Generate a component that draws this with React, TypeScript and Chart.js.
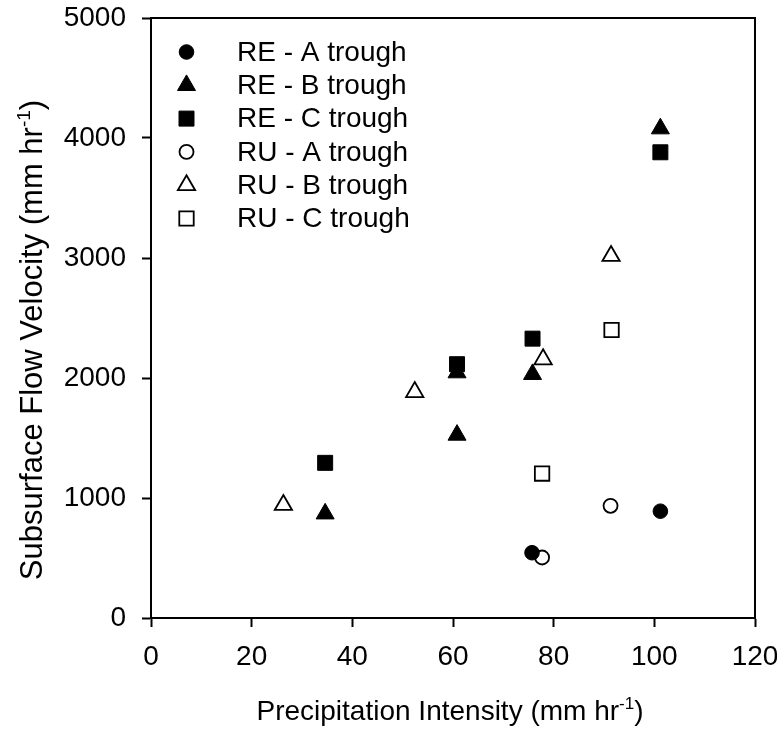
import React, { useEffect, useRef } from "react";
import { Chart, registerables } from "chart.js";

Chart.register(...registerables);

// ---- data ----
const reAX = [75.7, 101.2];
const reAY = [544, 890];
const reBX = [34.6, 60.8, 60.8, 75.8, 101.2];
const reBY = [869, 1525, 2045, 2031, 4078];
const reCX = [34.6, 60.8, 75.8, 101.2];
const reCY = [1293, 2115, 2328, 3881];
const ruAX = [77.7, 91.3];
const ruAY = [504, 935];
const ruBX = [26.3, 52.4, 77.9, 91.4];
const ruBY = [942, 1883, 2156, 3017];
const ruCX = [77.7, 91.5];
const ruCY = [1204, 2400];

const seriesLabels = ["RE - A trough", "RE - B trough", "RE - C trough", "RU - A trough", "RU - B trough", "RU - C trough"];
const xTicks = [0, 20, 40, 60, 80, 100, 120];
const yTicks = [0, 1000, 2000, 3000, 4000, 5000];
const xTitleParts = ["Precipitation Intensity (mm hr", "-1", ")"];
const yTitleParts = ["Subsurface Flow Velocity (mm hr", "-1", ")"];

const FONT = '"Liberation Sans", Arial, Helvetica, sans-serif';

type Sty = { style: string; filled: boolean; r: number; bw: number };
const styles: Sty[] = [
  { style: "circle", filled: true, r: 7.3, bw: 1 },
  { style: "triangle", filled: true, r: 10.4, bw: 1 },
  { style: "rect", filled: true, r: 10.6, bw: 1 },
  { style: "circle", filled: false, r: 7, bw: 1.8 },
  { style: "triangle", filled: false, r: 10, bw: 1.8 },
  { style: "rect", filled: false, r: 10.2, bw: 1.8 },
];
const drawOrder = [1, 2, 0, 3, 4, 5];

function pts(xs: number[], ys: number[]) {
  return xs.map((x, i) => ({ x, y: ys[i] }));
}

function drawMarker(ctx: CanvasRenderingContext2D, s: Sty, x: number, y: number) {
  ctx.save();
  ctx.beginPath();
  const r = s.r;
  if (s.style === "circle") {
    ctx.arc(x, y, r, 0, Math.PI * 2);
  } else if (s.style === "rect") {
    const h = Math.SQRT1_2 * r;
    ctx.rect(x - h, y - h, 2 * h, 2 * h);
  } else {
    let rad = 0;
    ctx.moveTo(x + Math.sin(rad) * r, y - Math.cos(rad) * r);
    rad += (2 * Math.PI) / 3;
    ctx.lineTo(x + Math.sin(rad) * r, y - Math.cos(rad) * r);
    rad += (2 * Math.PI) / 3;
    ctx.lineTo(x + Math.sin(rad) * r, y - Math.cos(rad) * r);
    ctx.closePath();
  }
  ctx.fillStyle = s.filled ? "#000" : "#fff";
  ctx.fill();
  ctx.lineWidth = s.bw;
  ctx.strokeStyle = "#000";
  ctx.stroke();
  ctx.restore();
}

function drawSup(ctx: CanvasRenderingContext2D, parts: string[], cx: number, baseline: number, size: number) {
  const main = `${size}px ${FONT}`;
  const supSize = Math.round(size * 0.62);
  const sup = `${supSize}px ${FONT}`;
  ctx.font = main;
  const w1 = ctx.measureText(parts[0]).width;
  const w3 = ctx.measureText(parts[2]).width;
  ctx.font = sup;
  const w2 = ctx.measureText(parts[1]).width;
  const total = w1 + w2 + w3;
  let x = cx - total / 2;
  ctx.fillStyle = "#000";
  ctx.textAlign = "left";
  ctx.textBaseline = "alphabetic";
  ctx.font = main;
  ctx.fillText(parts[0], x, baseline);
  x += w1;
  ctx.font = sup;
  ctx.fillText(parts[1], x, baseline - size * 0.4);
  x += w2;
  ctx.font = main;
  ctx.fillText(parts[2], x, baseline);
}

const framePlugin = {
  id: "frame",
  afterDraw(chart: any) {
    const { ctx, chartArea: a } = chart;
    ctx.save();
    ctx.strokeStyle = "#000";
    ctx.lineWidth = 2;
    ctx.strokeRect(a.left, a.top, a.right - a.left, a.bottom - a.top);
    ctx.restore();
  },
};

const legendPlugin = {
  id: "customLegend",
  afterDraw(chart: any) {
    const ctx = chart.ctx as CanvasRenderingContext2D;
    ctx.save();
    seriesLabels.forEach((lab, i) => {
      const y = 52 + i * 33.3;
      drawMarker(ctx, styles[i], 186.5, y);
      ctx.font = `28px ${FONT}`;
      ctx.fillStyle = "#000";
      ctx.textAlign = "left";
      ctx.textBaseline = "middle";
      ctx.fillText(lab, 237, y + 1);
    });
    ctx.restore();
  },
};

const titlesPlugin = {
  id: "axisTitles",
  afterDraw(chart: any) {
    const ctx = chart.ctx as CanvasRenderingContext2D;
    const a = chart.chartArea;
    ctx.save();
    drawSup(ctx, xTitleParts, (a.left + a.right) / 2 - 3, 720, 28);
    ctx.restore();
    ctx.save();
    ctx.translate(42, 340);
    ctx.rotate(-Math.PI / 2);
    drawSup(ctx, yTitleParts, 0, 0, 31);
    ctx.restore();
  },
};

export default function App() {
  const ref = useRef<HTMLCanvasElement | null>(null);
  useEffect(() => {
    document.body.style.margin = "0";
    const canvas = ref.current!;
    const xs = [reAX, reBX, reCX, ruAX, ruBX, ruCX];
    const ys = [reAY, reBY, reCY, ruAY, ruBY, ruCY];
    const datasets = seriesLabels.map((label, i) => ({
      label,
      data: pts(xs[i], ys[i]),
      order: drawOrder[i],
      pointStyle: styles[i].style,
      pointRadius: styles[i].r,
      pointHoverRadius: styles[i].r,
      pointBorderWidth: styles[i].bw,
      pointBackgroundColor: styles[i].filled ? "#000" : "#fff",
      pointBorderColor: "#000",
      showLine: false,
    }));
    const tickFont = { family: FONT, size: 28 };
    const chart = new Chart(canvas, {
      type: "scatter",
      data: { datasets },
      options: {
        animation: false,
        responsive: false,
        devicePixelRatio: 1,
        layout: { padding: { top: 18, right: 22, left: 0, bottom: 0 } },
        plugins: { legend: { display: false }, tooltip: { enabled: false } },
        scales: {
          x: {
            type: "linear",
            min: 0,
            max: 120,
            afterBuildTicks: (s: any) => { s.ticks = xTicks.map((v) => ({ value: v })); },
            ticks: { color: "#000", font: tickFont, padding: 13, maxRotation: 0, callback: (v: any) => String(v) },
            grid: { display: true, drawOnChartArea: false, drawTicks: true, tickLength: 9, tickColor: "#000", tickWidth: 2 },
            border: { display: true, color: "#000", width: 2 },
            afterFit: (s: any) => { s.height = 114; s.paddingLeft = 0; s.paddingRight = 0; },
          },
          y: {
            type: "linear",
            min: 0,
            max: 5000,
            afterBuildTicks: (s: any) => { s.ticks = yTicks.map((v) => ({ value: v })); },
            ticks: { color: "#000", font: tickFont, padding: 16, callback: (v: any) => String(v) },
            grid: { display: true, drawOnChartArea: false, drawTicks: true, tickLength: 9, tickColor: "#000", tickWidth: 2 },
            border: { display: true, color: "#000", width: 2 },
            afterFit: (s: any) => { s.width = 151; s.paddingTop = 0; s.paddingBottom = 0; },
          },
        },
      } as any,
      plugins: [framePlugin, legendPlugin, titlesPlugin],
    });
    return () => chart.destroy();
  }, []);
  return (
    <div style={{ width: 777, height: 732, background: "#fff" }}>
      <canvas ref={ref} width={777} height={732} style={{ display: "block" }} />
    </div>
  );
}
